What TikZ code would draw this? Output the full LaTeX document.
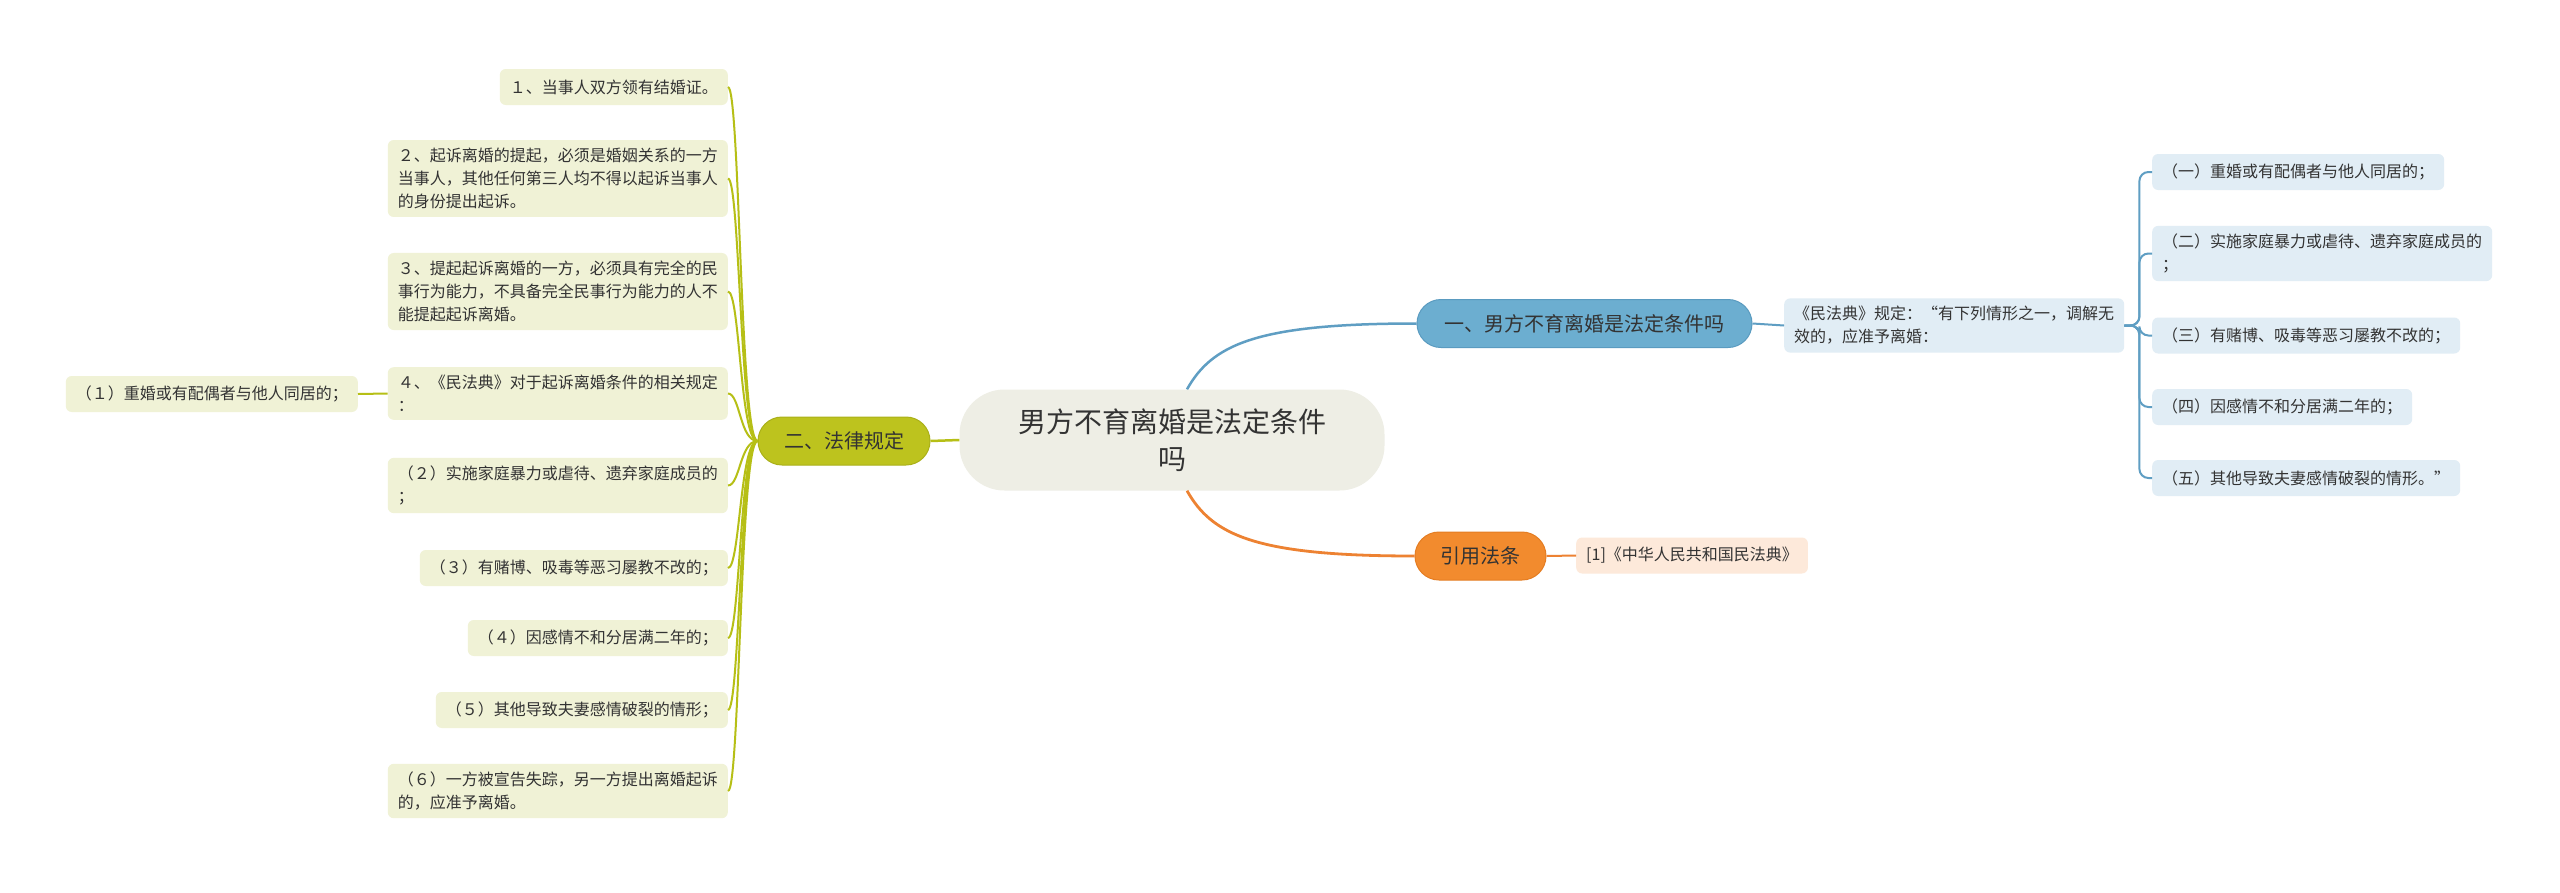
\documentclass[tikz,border=0pt]{standalone}
\usepackage{fontspec}
\setmainfont{Noto Sans CJK SC}
\definecolor{cTxt}{RGB}{51,51,51}
\definecolor{cRoot}{RGB}{238,238,229}
\definecolor{cOlive}{RGB}{189,195,30}
\definecolor{cOliveD}{RGB}{170,176,25}
\definecolor{cGfill}{RGB}{240,242,214}
\definecolor{cGline}{RGB}{182,191,22}
\definecolor{cBlue}{RGB}{108,174,208}
\definecolor{cBlueD}{RGB}{90,155,192}
\definecolor{cBfill}{RGB}{225,237,245}
\definecolor{cBline}{RGB}{95,158,195}
\definecolor{cOrange}{RGB}{242,139,46}
\definecolor{cOrangeD}{RGB}{228,125,35}
\definecolor{cOfill}{RGB}{253,233,218}
\definecolor{cOline}{RGB}{237,130,50}
\begin{document}
\begin{tikzpicture}[x=1pt,y=-1pt,
  leafbox/.style={font=\fontsize{16}{23}\selectfont, text=cTxt, align=left,
    inner xsep=10pt, inner ysep=8pt, minimum height=36pt, rounded corners=6pt},
  gleaf/.style={leafbox, fill=cGfill},
  bleaf/.style={leafbox, fill=cBfill},
  oleaf/.style={leafbox, fill=cOfill},
  rootbox/.style={fill=cRoot, rounded corners=45pt, font=\fontsize{28}{37}\selectfont,
    align=center, minimum width=425pt, minimum height=101pt, text=cTxt, inner sep=0pt},
  mainbox/.style={rounded corners=24pt, minimum height=48pt, inner xsep=0pt,
    font=\fontsize{20}{24}\selectfont, text=cTxt, line width=1pt},
  gcon/.style={draw=cGline, line width=2.5pt},
  bcon/.style={draw=cBline, line width=2.5pt},
  ocon/.style={draw=cOline, line width=2.8pt}
]
\useasboundingbox (0,0) rectangle (2560,892);
\fill[white] (0,0) rectangle (2560,892);

% root
\node[rootbox] (root) at (1172,440) {男方不育离婚是法定条件\\吗};

% main branches
\node[mainbox, fill=cOlive, draw=cOliveD, minimum width=172pt] (law) at (844,441) {二、法律规定};
\node[mainbox, fill=cBlue, draw=cBlueD, minimum width=335pt] (cond) at (1584.5,323.5) {一、男方不育离婚是法定条件吗};
\node[mainbox, fill=cOrange, draw=cOrangeD, minimum width=131pt] (cite) at (1480.5,556) {引用法条};

% left leaves
\node[gleaf, anchor=east] (g1) at (728,87) {１、当事人双方领有结婚证。};
\node[gleaf, anchor=east] (g2) at (728,178.5) {２、起诉离婚的提起，必须是婚姻关系的一方\\当事人，其他任何第三人均不得以起诉当事人\\的身份提出起诉。};
\node[gleaf, anchor=east] (g3) at (728,291.5) {３、提起起诉离婚的一方，必须具有完全的民\\事行为能力，不具备完全民事行为能力的人不\\能提起起诉离婚。};
\node[gleaf, anchor=east] (g4) at (728,393.5) {４、《民法典》对于起诉离婚条件的相关规定\\：};
\node[gleaf, anchor=east] (gp1) at (358,394) {（１）重婚或有配偶者与他人同居的；};
\node[gleaf, anchor=east] (gp2) at (728,485.5) {（２）实施家庭暴力或虐待、遗弃家庭成员的\\；};
\node[gleaf, anchor=east] (gp3) at (728,568) {（３）有赌博、吸毒等恶习屡教不改的；};
\node[gleaf, anchor=east] (gp4) at (728,638) {（４）因感情不和分居满二年的；};
\node[gleaf, anchor=east] (gp5) at (728,710) {（５）其他导致夫妻感情破裂的情形；};
\node[gleaf, anchor=east] (gp6) at (728,791) {（６）一方被宣告失踪，另一方提出离婚起诉\\的，应准予离婚。};

% right side
\node[bleaf, anchor=west] (desc) at (1784,325.5) {《民法典》规定：“有下列情形之一，调解无\\效的，应准予离婚：};
\node[bleaf, anchor=west] (b1) at (2152,172) {（一）重婚或有配偶者与他人同居的；};
\node[bleaf, anchor=west] (b2) at (2152,253.5) {（二）实施家庭暴力或虐待、遗弃家庭成员的\\；};
\node[bleaf, anchor=west] (b3) at (2152,335.5) {（三）有赌博、吸毒等恶习屡教不改的；};
\node[bleaf, anchor=west] (b4) at (2152,407) {（四）因感情不和分居满二年的；};
\node[bleaf, anchor=west] (b5) at (2152,478) {（五）其他导致夫妻感情破裂的情形。”};

\node[oleaf, anchor=west] (ref) at (1576,555.5) {[1]《中华人民共和国民法典》};

% connectors: root to mains
\draw[gcon] (root.west) -- (law.east);
\draw[bcon] ([xshift=15pt]root.north) .. controls (1212,345) and (1255,323.5) .. (cond.west);
\draw[ocon] ([xshift=15pt]root.south) .. controls (1212,535) and (1255,556) .. (cite.west);

% left tree
\foreach \c in {g1,g2,g3,g4,gp2,gp3,gp4,gp5,gp6}{
  \draw[gcon, line width=2pt] (law.west) .. controls (740,441) and (740,0 |- \c.east) .. (\c.east);
}
\draw[gcon, line width=2pt] (g4.west) -- (gp1.east);

% right tree
\draw[bcon, line width=2pt] (cond.east) -- (desc.west);
\foreach \c in {b1,b2,b3,b4,b5}{
  \draw[bcon, line width=2pt, rounded corners=9pt] (desc.east) -- ++(15,0) |- (\c.west);
}
\draw[ocon, line width=2pt] (cite.east) -- (ref.west);
\end{tikzpicture}
\end{document}
